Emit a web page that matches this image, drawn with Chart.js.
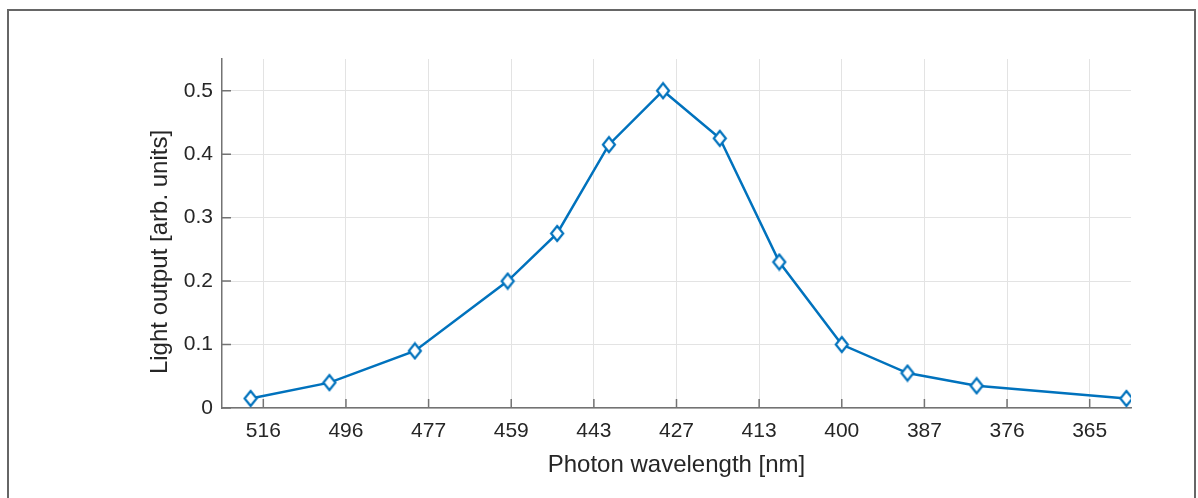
<!DOCTYPE html>
<html>
<head>
<meta charset="utf-8">
<title>Light output vs photon wavelength</title>
<script src="https://cdn.jsdelivr.net/npm/chart.js@4.4.0/dist/chart.umd.min.js"></script>
<style>
    html, body { margin: 0; padding: 0; background: #fff; overflow: hidden; }
    #wrap { position: relative; width: 1198px; height: 498px; }
    #frame {
        position: absolute; left: 7px; top: 9px; width: 1189px; height: 520px;
        border: 2px solid #666; box-sizing: border-box; pointer-events: none;
    }
</style>
</head>
<body>
<div id="wrap">
    <canvas id="lightChart" width="1198" height="498"></canvas>
    <div id="frame"></div>
</div>
<script>
// Measured emission: wavelength (nm) and relative light output
const wavelengths = [520, 500, 480, 460, 450, 440, 430, 420, 410, 400, 390, 380, 360];
const lightOutput = [0.015, 0.04, 0.09, 0.2, 0.275, 0.415, 0.5, 0.425, 0.23, 0.1, 0.055, 0.035, 0.015];

// x axis runs in photon energy (eV), labelled with wavelengths
const tickEnergies = [2.4, 2.5, 2.6, 2.7, 2.8, 2.9, 3.0, 3.1, 3.2, 3.3, 3.4];
const tickLabels = ['516', '496', '477', '459', '443', '427', '413', '400', '387', '376', '365'];
const yTickValues = [0, 0.1, 0.2, 0.3, 0.4, 0.5];
const yTickLabels = ['0', '0.1', '0.2', '0.3', '0.4', '0.5'];

const HC = 1240; // eV * nm
const FONT = "'Liberation Sans', Arial, sans-serif";
const TEXT = '#262626';
const AXIS = '#737373';
const BLUE = '#0072BD';

// Diamond marker, a little taller than wide
function diamondMarker() {
    const c = document.createElement('canvas');
    c.width = 16;
    c.height = 19;
    const g = c.getContext('2d');
    g.beginPath();
    g.moveTo(8, 2);
    g.lineTo(14, 9.5);
    g.lineTo(8, 17);
    g.lineTo(2, 9.5);
    g.closePath();
    g.fillStyle = '#fff';
    g.fill();
    g.lineWidth = 2.2;
    g.strokeStyle = BLUE;
    g.stroke();
    return c;
}

// Short tick marks pointing into the plot area
const inwardTicks = {
    id: 'inwardTicks',
    beforeDatasetsDraw(chart) {
        const { ctx, chartArea, scales } = chart;
        ctx.save();
        ctx.strokeStyle = AXIS;
        ctx.lineWidth = 1.5;
        ctx.beginPath();
        scales.x.ticks.forEach(t => {
            const px = scales.x.getPixelForValue(t.value);
            ctx.moveTo(px, chartArea.bottom);
            ctx.lineTo(px, chartArea.bottom - 9);
        });
        scales.y.ticks.forEach(t => {
            const py = scales.y.getPixelForValue(t.value);
            ctx.moveTo(chartArea.left, py);
            ctx.lineTo(chartArea.left + 9, py);
        });
        ctx.stroke();
        ctx.restore();
    }
};

// Rotated y axis label
const yTitle = {
    id: 'yTitle',
    afterDraw(chart) {
        const { ctx } = chart;
        ctx.save();
        ctx.translate(160, 252);
        ctx.rotate(-Math.PI / 2);
        ctx.font = `24px ${FONT}`;
        ctx.fillStyle = TEXT;
        ctx.textAlign = 'center';
        ctx.textBaseline = 'middle';
        ctx.fillText('Light output [arb. units]', 0, 0);
        ctx.restore();
    }
};

new Chart(document.getElementById('lightChart'), {
    type: 'line',
    data: {
        datasets: [{
            data: wavelengths.map((w, i) => ({ x: HC / w, y: lightOutput[i] })),
            borderColor: BLUE,
            borderWidth: 2.5,
            pointStyle: diamondMarker(),
            tension: 0,
            fill: false
        }]
    },
    options: {
        responsive: false,
        animation: false,
        layout: { padding: { top: 59, right: 67, left: 0, bottom: 0 } },
        plugins: { legend: { display: false }, tooltip: { enabled: false } },
        events: [],
        scales: {
            x: {
                type: 'linear',
                min: 2.35,
                max: 3.45,
                afterFit(scale) { scale.height = 90; },
                afterBuildTicks(scale) { scale.ticks = tickEnergies.map(v => ({ value: v })); },
                ticks: {
                    autoSkip: false,
                    maxRotation: 0,
                    padding: 11,
                    color: TEXT,
                    font: { family: FONT, size: 21 },
                    callback: (v, i) => tickLabels[i]
                },
                grid: { color: '#e3e3e3', lineWidth: 1, drawTicks: false },
                border: { color: AXIS, width: 1.5 },
                title: {
                    display: true,
                    text: 'Photon wavelength [nm]',
                    color: TEXT,
                    font: { family: FONT, size: 24 },
                    padding: { top: 0, bottom: 18 }
                }
            },
            y: {
                min: 0,
                max: 0.55,
                afterFit(scale) { scale.width = 222; },
                afterBuildTicks(scale) { scale.ticks = yTickValues.map(v => ({ value: v })); },
                ticks: {
                    padding: 9,
                    color: TEXT,
                    font: { family: FONT, size: 21 },
                    callback: (v, i) => yTickLabels[i]
                },
                grid: { color: '#e3e3e3', lineWidth: 1, drawTicks: false },
                border: { color: AXIS, width: 1.5 }
            }
        }
    },
    plugins: [inwardTicks, yTitle]
});
</script>
</body>
</html>
